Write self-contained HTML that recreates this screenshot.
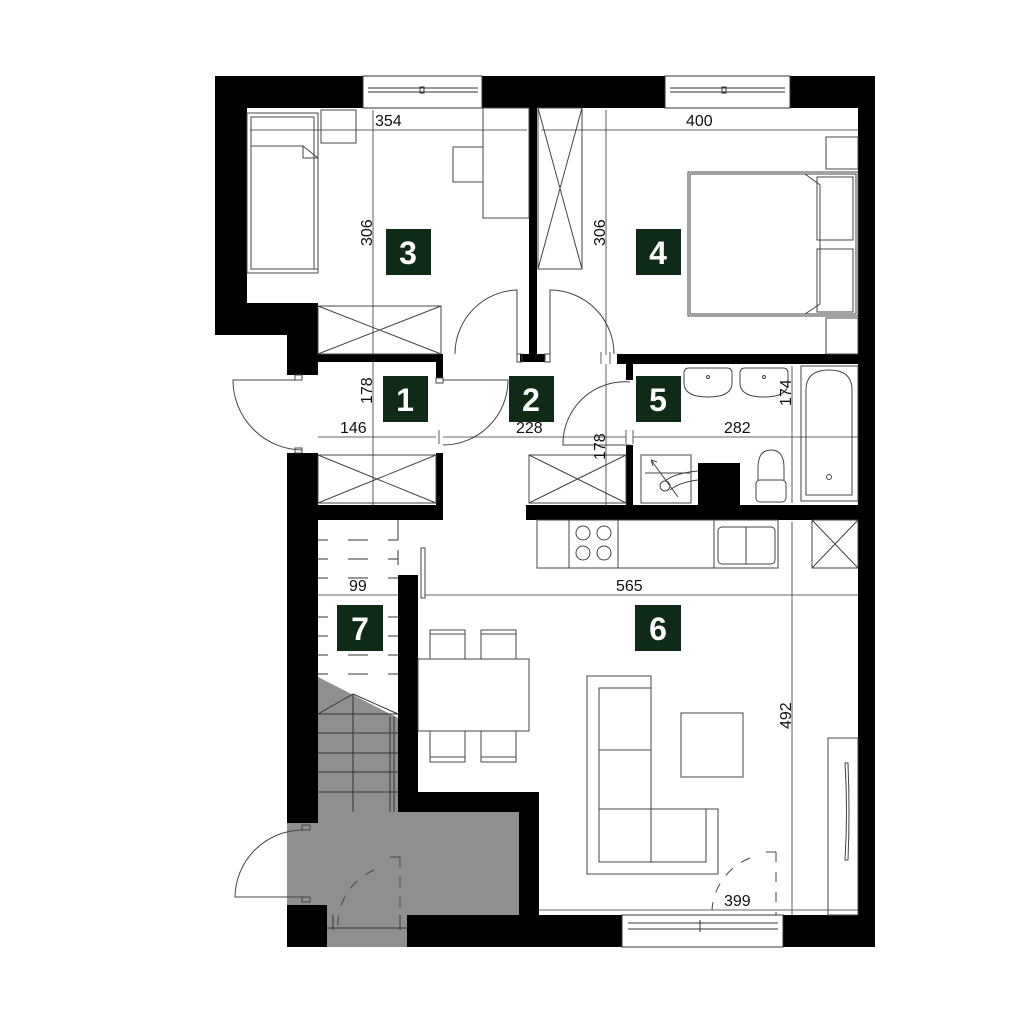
<!DOCTYPE html>
<html><head><meta charset="utf-8"><style>html,body{margin:0;padding:0;background:#fff}svg{display:block}</style></head>
<body>
<svg width="1024" height="1024" viewBox="0 0 1024 1024" xmlns="http://www.w3.org/2000/svg" font-family="Liberation Sans, sans-serif">
<rect width="1024" height="1024" fill="#fff"/>
<polygon points="318,677 398,718 398,812 519,812 519,915 407,915 407,947 327,947 327,905 287,905 287,823 318,823" fill="#8f8f8f"/>
<polygon points="287,823 318,677 318,823" fill="#1a1a1a"/>
<g stroke="#333" stroke-width="1" fill="none">
<line x1="318" y1="714" x2="398" y2="714"/><line x1="318" y1="733" x2="398" y2="733"/><line x1="318" y1="753" x2="398" y2="753"/><line x1="318" y1="772" x2="398" y2="772"/><line x1="318" y1="792" x2="398" y2="792"/>
<line x1="353" y1="694" x2="353" y2="812"/><line x1="318" y1="714" x2="353" y2="694" /><line x1="353" y1="694" x2="398" y2="714"/>
<line x1="390" y1="716" x2="390" y2="812"/><line x1="394" y1="716" x2="394" y2="812"/>
</g>
<g stroke="#333" stroke-width="1">
<line x1="318" y1="540" x2="328" y2="540"/><line x1="348" y1="540" x2="368" y2="540"/><line x1="388" y1="540" x2="398" y2="540"/>
<line x1="318" y1="559" x2="328" y2="559"/><line x1="348" y1="559" x2="368" y2="559"/><line x1="388" y1="559" x2="398" y2="559"/>
<line x1="318" y1="578" x2="328" y2="578"/><line x1="348" y1="578" x2="368" y2="578"/><line x1="388" y1="578" x2="398" y2="578"/>
<line x1="318" y1="617" x2="328" y2="617"/><line x1="388" y1="617" x2="398" y2="617"/>
<line x1="318" y1="636" x2="328" y2="636"/><line x1="388" y1="636" x2="398" y2="636"/>
<line x1="318" y1="655" x2="328" y2="655"/><line x1="348" y1="655" x2="368" y2="655"/><line x1="388" y1="655" x2="398" y2="655"/>
<line x1="318" y1="674" x2="328" y2="674"/><line x1="348" y1="674" x2="368" y2="674"/><line x1="388" y1="674" x2="398" y2="674"/>
<line x1="398" y1="520" x2="398" y2="540" /><line x1="398" y1="550" x2="398" y2="565"/>
</g>
<g fill="#000">
<rect x="215" y="76" width="148" height="32"/>
<rect x="215" y="76" width="32" height="259"/>
<rect x="215" y="303" width="103" height="32"/>
<rect x="287" y="303" width="31" height="72"/>
<rect x="482" y="76" width="183" height="32"/>
<rect x="790" y="76" width="85" height="32"/>
<rect x="858" y="76" width="17" height="871"/>
<rect x="529" y="108" width="8" height="250"/>
<rect x="520" y="354" width="25" height="8"/>
<rect x="318" y="354" width="125" height="8"/>
<rect x="436" y="354" width="7" height="24"/>
<rect x="617" y="354" width="241" height="10"/>
<rect x="626" y="362" width="7" height="18"/>
<rect x="287" y="453" width="31" height="370"/>
<rect x="318" y="505" width="125" height="15"/>
<rect x="436" y="453" width="7" height="67"/>
<rect x="526" y="505" width="332" height="15"/>
<rect x="626" y="445" width="7" height="75"/>
<rect x="698" y="463" width="42" height="42"/>
<rect x="398" y="575" width="20" height="237"/>
<rect x="398" y="792" width="141" height="20"/>
<rect x="519" y="792" width="20" height="155"/>
<rect x="407" y="915" width="215" height="32"/>
<rect x="783" y="915" width="92" height="32"/>
<rect x="287" y="905" width="40" height="42"/>
</g>
<g stroke="#333" stroke-width="1" fill="none">
<rect x="363" y="76" width="119" height="32"/><line x1="368" y1="88" x2="478" y2="88"/><line x1="368" y1="92" x2="478" y2="92"/><rect x="420" y="87" width="4" height="6"/>
<rect x="665" y="76" width="125" height="32"/><line x1="670" y1="88" x2="785" y2="88"/><line x1="670" y1="92" x2="785" y2="92"/><rect x="722" y="87" width="4" height="6"/>
<rect x="622" y="915" width="161" height="32"/><line x1="628" y1="923" x2="778" y2="923"/><line x1="628" y1="929" x2="778" y2="929"/><line x1="700" y1="920" x2="700" y2="932"/>
<line x1="327" y1="928" x2="407" y2="928"/><line x1="333" y1="915" x2="333" y2="930"/><line x1="400" y1="915" x2="400" y2="930"/>
</g>
<g stroke="#444" stroke-width="1" fill="none">
<rect x="247" y="113" width="71" height="160"/><rect x="251" y="117" width="63" height="152"/>
<path d="M251 146 H303 L318 158 V269 H251 Z"/><path d="M303 146 V158 H318"/>
<rect x="321" y="110" width="35" height="33"/>
<rect x="483" y="108" width="46" height="110"/>
<rect x="453" y="147" width="30" height="35"/>
<rect x="538" y="108" width="44" height="161"/><path d="M538 108 L582 269 M582 108 L538 269"/>
<rect x="318" y="306" width="123" height="48"/><path d="M318 306 L441 354 M441 306 L318 354"/>
<rect x="318" y="455" width="118" height="48"/><path d="M318 455 L436 503 M436 455 L318 503"/>
<rect x="529" y="455" width="97" height="48"/><path d="M529 455 L626 503 M626 455 L529 503"/>
<rect x="826" y="137" width="32" height="32"/><rect x="826" y="318" width="32" height="36"/>
<rect x="688" y="172" width="170" height="144"/><rect x="690" y="174" width="166" height="140"/>
<path d="M805 174 L820 185 V304 L805 314"/>
<rect x="817" y="177" width="36" height="63"/><rect x="817" y="249" width="36" height="63"/>
<path d="M689 368 h38 q5 0 5 5 v10 q0 14 -24 14 q-24 0 -24 -14 v-10 q0 -5 5 -5z"/><circle cx="708" cy="377" r="1.5"/>
<path d="M745 368 h38 q5 0 5 5 v10 q0 14 -24 14 q-24 0 -24 -14 v-10 q0 -5 5 -5z"/><circle cx="764" cy="377" r="1.5"/>
<rect x="801" y="366" width="57" height="135"/>
<path d="M806 495 V390 q0 -20 23 -20 q23 0 23 20 V495 Z"/><circle cx="829" cy="477" r="2.5"/>
<path d="M758 480 v-12 q0 -18 13 -18 q13 0 13 18 v12"/><rect x="756" y="480" width="30" height="22" rx="4"/>
<rect x="641" y="455" width="50" height="48"/><line x1="645" y1="473" x2="690" y2="473"/><path d="M651 460 L678 497 M651 460 l2 6 M651 460 l6 2"/><circle cx="665" cy="486" r="5"/><path d="M665 481 q10 -8 33 -10 M670 490 q10 -8 28 -10"/>
<rect x="537" y="520" width="241" height="48"/><line x1="569" y1="520" x2="569" y2="568"/><line x1="618" y1="520" x2="618" y2="568"/><line x1="714" y1="520" x2="714" y2="568"/><line x1="778" y1="520" x2="778" y2="568"/>
<circle cx="583" cy="533" r="7"/><circle cx="604" cy="533" r="7"/><circle cx="583" cy="553" r="7"/><circle cx="604" cy="553" r="7"/>
<rect x="718" y="527" width="57" height="37" rx="4"/><line x1="746" y1="527" x2="746" y2="564"/>
<rect x="812" y="520" width="46" height="48"/><path d="M812 520 L858 568 M858 520 L812 568"/>
<rect x="421" y="548" width="4" height="50"/>
<rect x="418" y="659" width="111" height="72"/>
<rect x="430" y="630" width="35" height="29"/><line x1="430" y1="634" x2="465" y2="634"/>
<rect x="481" y="630" width="35" height="29"/><line x1="481" y1="634" x2="516" y2="634"/>
<rect x="430" y="731" width="35" height="31"/><line x1="430" y1="757" x2="465" y2="757"/>
<rect x="481" y="731" width="35" height="31"/><line x1="481" y1="757" x2="516" y2="757"/>
<path d="M587 676 H651 V809 H718 V874 H587 Z"/>
<rect x="599" y="688" width="52" height="174"/><line x1="599" y1="750" x2="651" y2="750"/><line x1="599" y1="809" x2="651" y2="809"/><rect x="651" y="809" width="55" height="53"/>
<rect x="681" y="713" width="62" height="64"/>
<rect x="828" y="738" width="30" height="177"/><path d="M845 763 q3 48 0 97 h3 q2 -48 0 -97z"/>
</g>
<g stroke="#444" stroke-width="1" fill="none">
<path d="M302 380 H233 A70 70 0 0 0 302 450"/><rect x="295" y="375" width="7" height="5"/><rect x="295" y="448" width="7" height="5"/>
<path d="M443 380 H508 A65 65 0 0 1 443 445"/><rect x="436" y="378" width="7" height="5"/>
<path d="M517 354 V290 A64 64 0 0 0 455 354"/><rect x="517" y="354" width="5" height="8"/>
<path d="M550 354 V290 A64 64 0 0 1 614 354"/><rect x="545" y="354" width="5" height="8"/>
<path d="M630 382 A62 62 0 0 0 563 445 H630"/>
<path d="M302 830 A68 68 0 0 0 235 897 H302"/><rect x="302" y="825" width="8" height="5"/><rect x="302" y="897" width="8" height="5"/>
<g stroke-dasharray="10,10"><path d="M400 857 V930 M390 857 H400 M374 870 A60 60 0 0 0 338 930"/><path d="M776 852 V915 M766 852 H776 M750 858 A60 60 0 0 0 712 910"/></g>
</g>
<g stroke="#333" stroke-width="0.8" fill="none">
<line x1="250" y1="130" x2="527" y2="130"/><line x1="541" y1="130" x2="858" y2="130"/>
<line x1="373" y1="110" x2="373" y2="355"/><line x1="373" y1="362" x2="373" y2="505"/>
<line x1="606" y1="110" x2="606" y2="355"/><line x1="606" y1="364" x2="606" y2="505"/>
<line x1="318" y1="437" x2="436" y2="437"/><line x1="443" y1="437" x2="626" y2="437"/><line x1="633" y1="437" x2="858" y2="437"/>
<line x1="792" y1="366" x2="792" y2="503"/><line x1="792" y1="522" x2="792" y2="915"/>
<line x1="318" y1="595" x2="398" y2="595"/><line x1="425" y1="595" x2="858" y2="595"/>
<line x1="539" y1="910" x2="858" y2="910"/>
<line x1="601" y1="352" x2="601" y2="364"/><line x1="610" y1="352" x2="610" y2="364"/>
<line x1="439" y1="430" x2="439" y2="444"/><line x1="626" y1="430" x2="626" y2="444"/><line x1="633" y1="430" x2="633" y2="444"/>
</g>
<g font-size="16" fill="#111">
<text x="375" y="126">354</text><text x="686" y="126">400</text>
<text x="340" y="433">146</text><text x="516" y="433">228</text><text x="724" y="433">282</text>
<text x="349" y="591">99</text><text x="616" y="591">565</text><text x="724" y="906">399</text>
<text transform="translate(372,246) rotate(-90)">306</text>
<text transform="translate(605,246) rotate(-90)">306</text>
<text transform="translate(372,404) rotate(-90)">178</text>
<text transform="translate(605,460) rotate(-90)">178</text>
<text transform="translate(791,406) rotate(-90)">174</text>
<text transform="translate(791,729) rotate(-90)">492</text>
</g>
<g font-size="32" font-weight="bold" fill="#fff" text-anchor="middle">
<rect x="386" y="229" width="45" height="46" fill="#0f2a17"/><text x="408" y="264">3</text>
<rect x="636" y="229" width="45" height="46" fill="#0f2a17"/><text x="658" y="264">4</text>
<rect x="383" y="376" width="45" height="46" fill="#0f2a17"/><text x="405" y="411">1</text>
<rect x="509" y="376" width="45" height="46" fill="#0f2a17"/><text x="531" y="411">2</text>
<rect x="636" y="376" width="45" height="46" fill="#0f2a17"/><text x="658" y="411">5</text>
<rect x="337" y="605" width="46" height="46" fill="#0f2a17"/><text x="360" y="640">7</text>
<rect x="635" y="605" width="46" height="46" fill="#0f2a17"/><text x="658" y="640">6</text>
</g>
</svg>
</body></html>
